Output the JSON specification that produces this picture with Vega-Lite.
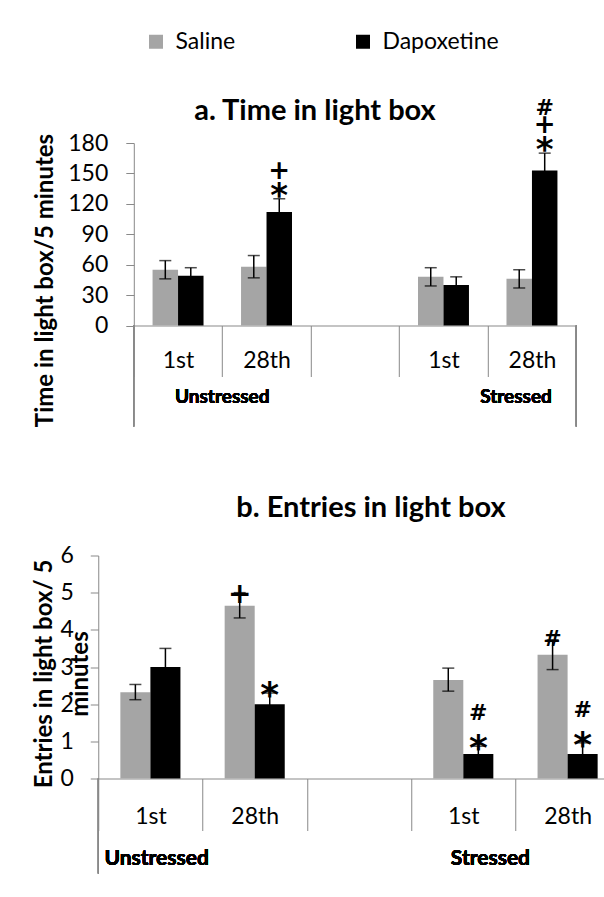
{
  "$schema": "https://vega.github.io/schema/vega-lite/v6.json",
  "padding": {"left": 32, "top": 30, "right": 0, "bottom": 0},
  "background": "white",
  "config": {"view": {"stroke": null}, "font": "Lato", "axis": {"labelOverlap": false}},
  "bounds": "flush",
  "center": true,
  "spacing": 229.5,
  "resolve": {"scale": {"x": "independent", "y": "independent", "xOffset": "independent", "color": "shared"}},
  "vconcat": [
    {
      "width": 442.4,
      "height": 182.5,
      "title": {"text": "a. Time in light box", "frame": "group", "anchor": "middle", "dx": -40, "fontSize": 29, "font": "Lato", "fontWeight": "bold", "offset": -52, "baseline": "alphabetic", "color": "black"},
      "data": {"values": [
        {"slot": "U1", "series": "Saline", "mean": 55, "lo": 46, "hi": 64},
        {"slot": "U1", "series": "Dapoxetine", "mean": 49, "lo": 41, "hi": 57},
        {"slot": "U28", "series": "Saline", "mean": 58, "lo": 47, "hi": 69},
        {"slot": "U28", "series": "Dapoxetine", "mean": 112, "lo": 100, "hi": 125, "s1": "*", "s2": "+"},
        {"slot": "S1", "series": "Saline", "mean": 48, "lo": 39, "hi": 57},
        {"slot": "S1", "series": "Dapoxetine", "mean": 40, "lo": 32, "hi": 48},
        {"slot": "S28", "series": "Saline", "mean": 46, "lo": 37, "hi": 55},
        {"slot": "S28", "series": "Dapoxetine", "mean": 153, "lo": 137, "hi": 170, "s1": "*", "s2": "+", "s3": "#"}
      ]},
      "encoding": {
        "x": {"field": "slot", "type": "nominal",
          "scale": {"domain": ["U1", "U28", "gap", "S1", "S28"], "paddingInner": 0, "paddingOuter": 0},
          "axis": {"title": null, "labelExpr": "datum.value == 'U1' || datum.value == 'S1' ? '1st' : (datum.value == 'U28' || datum.value == 'S28' ? '28th' : '')",
            "domainColor": "#898989", "tickColor": "#898989", "tickBand": "extent", "tickSize": 51,
            "labelFont": "Lato", "labelFontSize": 23, "labelColor": "black", "labelAngle": 0, "labelBaseline": "middle", "labelPadding": -16, "grid": false}},
        "xOffset": {"field": "series", "type": "nominal", "scale": {"domain": ["Saline", "Dapoxetine"], "paddingOuter": 0.736, "paddingInner": 0}}
      },
      "layer": [
        {
          "mark": {"type": "bar"},
          "encoding": {
            "y": {"field": "mean", "type": "quantitative", "scale": {"domain": [0, 180], "nice": false},
              "axis": {"title": "Time in light box/5 minutes", "values": [0, 30, 60, 90, 120, 150, 180], "grid": false, "labelOverlap": false, "domainColor": "#898989", "tickColor": "#898989", "tickSize": 8, "labelFont": "Lato", "labelFontSize": 23, "labelColor": "black", "labelPadding": 18, "titleFont": "Lato", "titleFontSize": 24, "titleFontWeight": "bold", "titleColor": "black", "titleAngle": -90, "titleAlign": "center", "titleBaseline": "alphabetic", "titleX": -81, "titleY": 137}},
            "color": {"field": "series", "type": "nominal", "scale": {"domain": ["Saline", "Dapoxetine"], "range": ["#a5a5a5", "#000000"]},
              "legend": {"orient": "none", "legendX": 46.5, "legendY": -113, "direction": "horizontal", "title": null,
                "symbolType": "square", "symbolSize": 196, "symbolStrokeWidth": 0, "labelFont": "Lato", "labelFontSize": 23,
                "labelColor": "black", "labelOffset": 8, "columnPadding": 116, "padding": 0}}
          }
        },
        {
          "mark": {"type": "rule", "color": "black", "strokeWidth": 1.5},
          "encoding": {
            "y": {"field": "lo", "type": "quantitative",
              "axis": {"title": "Time in light box/5 minutes", "values": [0, 30, 60, 90, 120, 150, 180], "grid": false, "labelOverlap": false, "domainColor": "#898989", "tickColor": "#898989", "tickSize": 8, "labelFont": "Lato", "labelFontSize": 23, "labelColor": "black", "labelPadding": 18, "titleFont": "Lato", "titleFontSize": 24, "titleFontWeight": "bold", "titleColor": "black", "titleAngle": -90, "titleAlign": "center", "titleBaseline": "alphabetic", "titleX": -81, "titleY": 137}},
            "y2": {"field": "hi"}}
        },
        {
          "mark": {"type": "tick", "color": "black", "thickness": 1.5, "size": 12},
          "encoding": {"y": {"field": "hi", "type": "quantitative",
              "axis": {"title": "Time in light box/5 minutes", "values": [0, 30, 60, 90, 120, 150, 180], "grid": false, "labelOverlap": false, "domainColor": "#898989", "tickColor": "#898989", "tickSize": 8, "labelFont": "Lato", "labelFontSize": 23, "labelColor": "black", "labelPadding": 18, "titleFont": "Lato", "titleFontSize": 24, "titleFontWeight": "bold", "titleColor": "black", "titleAngle": -90, "titleAlign": "center", "titleBaseline": "alphabetic", "titleX": -81, "titleY": 137}}}
        },
        {
          "mark": {"type": "tick", "color": "black", "thickness": 1.5, "size": 12},
          "encoding": {"y": {"field": "lo", "type": "quantitative",
              "axis": {"title": "Time in light box/5 minutes", "values": [0, 30, 60, 90, 120, 150, 180], "grid": false, "labelOverlap": false, "domainColor": "#898989", "tickColor": "#898989", "tickSize": 8, "labelFont": "Lato", "labelFontSize": 23, "labelColor": "black", "labelPadding": 18, "titleFont": "Lato", "titleFontSize": 24, "titleFontWeight": "bold", "titleColor": "black", "titleAngle": -90, "titleAlign": "center", "titleBaseline": "alphabetic", "titleX": -81, "titleY": 137}}}
        },
        {
          "mark": {"type": "rule", "color": "#898989", "strokeWidth": 1, "y2Offset": 101},
          "encoding": {
            "x": {"datum": "U1", "type": "nominal", "bandPosition": 0,
              "axis": {"title": null, "labelExpr": "datum.value == 'U1' || datum.value == 'S1' ? '1st' : (datum.value == 'U28' || datum.value == 'S28' ? '28th' : '')", "domainColor": "#898989", "tickColor": "#898989", "tickBand": "extent", "tickSize": 51, "labelFont": "Lato", "labelFontSize": 23, "labelColor": "black", "labelAngle": 0, "labelBaseline": "middle", "labelPadding": -16, "grid": false}},
            "xOffset": null,
            "y": {"datum": 0, "type": "quantitative",
              "axis": {"title": "Time in light box/5 minutes", "values": [0, 30, 60, 90, 120, 150, 180], "grid": false, "labelOverlap": false, "domainColor": "#898989", "tickColor": "#898989", "tickSize": 8, "labelFont": "Lato", "labelFontSize": 23, "labelColor": "black", "labelPadding": 18, "titleFont": "Lato", "titleFontSize": 24, "titleFontWeight": "bold", "titleColor": "black", "titleAngle": -90, "titleAlign": "center", "titleBaseline": "alphabetic", "titleX": -81, "titleY": 137}},
            "y2": {"datum": 0}}
        },
        {
          "mark": {"type": "rule", "color": "#898989", "strokeWidth": 1, "y2Offset": 101},
          "encoding": {
            "x": {"datum": "S28", "type": "nominal", "bandPosition": 1,
              "axis": {"title": null, "labelExpr": "datum.value == 'U1' || datum.value == 'S1' ? '1st' : (datum.value == 'U28' || datum.value == 'S28' ? '28th' : '')", "domainColor": "#898989", "tickColor": "#898989", "tickBand": "extent", "tickSize": 51, "labelFont": "Lato", "labelFontSize": 23, "labelColor": "black", "labelAngle": 0, "labelBaseline": "middle", "labelPadding": -16, "grid": false}},
            "xOffset": null,
            "y": {"datum": 0, "type": "quantitative",
              "axis": {"title": "Time in light box/5 minutes", "values": [0, 30, 60, 90, 120, 150, 180], "grid": false, "labelOverlap": false, "domainColor": "#898989", "tickColor": "#898989", "tickSize": 8, "labelFont": "Lato", "labelFontSize": 23, "labelColor": "black", "labelPadding": 18, "titleFont": "Lato", "titleFontSize": 24, "titleFontWeight": "bold", "titleColor": "black", "titleAngle": -90, "titleAlign": "center", "titleBaseline": "alphabetic", "titleX": -81, "titleY": 137}},
            "y2": {"datum": 0}}
        },
        {
          "mark": {"type": "text", "text": "Unstressed", "font": "Lato", "fontWeight": "bold", "fontSize": 19, "baseline": "middle", "dy": 71.5, "color": "black"},
          "encoding": {
            "x": {"datum": "U28", "type": "nominal", "bandPosition": 0,
              "axis": {"title": null, "labelExpr": "datum.value == 'U1' || datum.value == 'S1' ? '1st' : (datum.value == 'U28' || datum.value == 'S28' ? '28th' : '')", "domainColor": "#898989", "tickColor": "#898989", "tickBand": "extent", "tickSize": 51, "labelFont": "Lato", "labelFontSize": 23, "labelColor": "black", "labelAngle": 0, "labelBaseline": "middle", "labelPadding": -16, "grid": false}},
            "xOffset": null,
            "y": {"datum": 0, "type": "quantitative",
              "axis": {"title": "Time in light box/5 minutes", "values": [0, 30, 60, 90, 120, 150, 180], "grid": false, "labelOverlap": false, "domainColor": "#898989", "tickColor": "#898989", "tickSize": 8, "labelFont": "Lato", "labelFontSize": 23, "labelColor": "black", "labelPadding": 18, "titleFont": "Lato", "titleFontSize": 24, "titleFontWeight": "bold", "titleColor": "black", "titleAngle": -90, "titleAlign": "center", "titleBaseline": "alphabetic", "titleX": -81, "titleY": 137}}}
        },
        {
          "mark": {"type": "text", "text": "Stressed", "font": "Lato", "fontWeight": "bold", "fontSize": 19, "baseline": "middle", "dy": 71.5, "color": "black"},
          "encoding": {
            "x": {"datum": "S28", "type": "nominal", "bandPosition": 0.32,
              "axis": {"title": null, "labelExpr": "datum.value == 'U1' || datum.value == 'S1' ? '1st' : (datum.value == 'U28' || datum.value == 'S28' ? '28th' : '')", "domainColor": "#898989", "tickColor": "#898989", "tickBand": "extent", "tickSize": 51, "labelFont": "Lato", "labelFontSize": 23, "labelColor": "black", "labelAngle": 0, "labelBaseline": "middle", "labelPadding": -16, "grid": false}},
            "xOffset": null,
            "y": {"datum": 0, "type": "quantitative",
              "axis": {"title": "Time in light box/5 minutes", "values": [0, 30, 60, 90, 120, 150, 180], "grid": false, "labelOverlap": false, "domainColor": "#898989", "tickColor": "#898989", "tickSize": 8, "labelFont": "Lato", "labelFontSize": 23, "labelColor": "black", "labelPadding": 18, "titleFont": "Lato", "titleFontSize": 24, "titleFontWeight": "bold", "titleColor": "black", "titleAngle": -90, "titleAlign": "center", "titleBaseline": "alphabetic", "titleX": -81, "titleY": 137}}}
        },
        {
          "transform": [{"filter": "datum.s1 == '*'"}],
          "mark": {"type": "text", "font": "DejaVu Sans", "fontWeight": "bold", "fontSize": 34, "baseline": "alphabetic", "align": "center", "dy": 8, "color": "black"},
          "encoding": {"text": {"field": "s1"}, "y": {"field": "hi", "type": "quantitative",
              "axis": {"title": "Time in light box/5 minutes", "values": [0, 30, 60, 90, 120, 150, 180], "grid": false, "labelOverlap": false, "domainColor": "#898989", "tickColor": "#898989", "tickSize": 8, "labelFont": "Lato", "labelFontSize": 23, "labelColor": "black", "labelPadding": 18, "titleFont": "Lato", "titleFontSize": 24, "titleFontWeight": "bold", "titleColor": "black", "titleAngle": -90, "titleAlign": "center", "titleBaseline": "alphabetic", "titleX": -81, "titleY": 137}}}
        },
        {
          "transform": [{"filter": "datum.s2 == '+'"}],
          "mark": {"type": "text", "font": "DejaVu Sans", "fontWeight": "bold", "fontSize": 26, "baseline": "alphabetic", "align": "center", "dy": -20, "color": "black"},
          "encoding": {"text": {"field": "s2"}, "y": {"field": "hi", "type": "quantitative",
              "axis": {"title": "Time in light box/5 minutes", "values": [0, 30, 60, 90, 120, 150, 180], "grid": false, "labelOverlap": false, "domainColor": "#898989", "tickColor": "#898989", "tickSize": 8, "labelFont": "Lato", "labelFontSize": 23, "labelColor": "black", "labelPadding": 18, "titleFont": "Lato", "titleFontSize": 24, "titleFontWeight": "bold", "titleColor": "black", "titleAngle": -90, "titleAlign": "center", "titleBaseline": "alphabetic", "titleX": -81, "titleY": 137}}}
        },
        {
          "transform": [{"filter": "datum.s3 == '#'"}],
          "mark": {"type": "text", "font": "DejaVu Sans", "fontWeight": "bold", "fontSize": 22, "baseline": "alphabetic", "align": "center", "dy": -38, "color": "black"},
          "encoding": {"text": {"field": "s3"}, "y": {"field": "hi", "type": "quantitative",
              "axis": {"title": "Time in light box/5 minutes", "values": [0, 30, 60, 90, 120, 150, 180], "grid": false, "labelOverlap": false, "domainColor": "#898989", "tickColor": "#898989", "tickSize": 8, "labelFont": "Lato", "labelFontSize": 23, "labelColor": "black", "labelPadding": 18, "titleFont": "Lato", "titleFontSize": 24, "titleFontWeight": "bold", "titleColor": "black", "titleAngle": -90, "titleAlign": "center", "titleBaseline": "alphabetic", "titleX": -81, "titleY": 137}}}
        }
      ]
    },
    {
      "width": 513.5,
      "height": 223,
      "title": {"text": "b. Entries in light box", "frame": "group", "anchor": "middle", "dx": 16, "fontSize": 29, "font": "Lato", "fontWeight": "bold", "offset": -1, "baseline": "alphabetic", "color": "black"},
      "data": {"values": [
        {"slot": "U1", "series": "Saline", "mean": 2.32, "lo": 2.12, "hi": 2.53},
        {"slot": "U1", "series": "Dapoxetine", "mean": 3.0, "lo": 2.5, "hi": 3.5},
        {"slot": "U28", "series": "Saline", "mean": 4.65, "lo": 4.32, "hi": 5.0, "s1": "+"},
        {"slot": "U28", "series": "Dapoxetine", "mean": 2.0, "lo": 1.7, "hi": 2.3, "s1": "*"},
        {"slot": "S1", "series": "Saline", "mean": 2.65, "lo": 2.35, "hi": 2.97},
        {"slot": "S1", "series": "Dapoxetine", "mean": 0.66, "lo": 0.45, "hi": 0.87, "s1": "*", "s2": "#"},
        {"slot": "S28", "series": "Saline", "mean": 3.33, "lo": 2.93, "hi": 3.73, "s1": "#"},
        {"slot": "S28", "series": "Dapoxetine", "mean": 0.66, "lo": 0.36, "hi": 0.96, "s1": "*", "s2": "#"}
      ]},
      "encoding": {
        "x": {"field": "slot", "type": "nominal",
          "scale": {"domain": ["U1", "U28", "gap", "S1", "S28"], "range": [0, 521.5], "paddingInner": 0, "paddingOuter": 0},
          "axis": {"title": null, "labelExpr": "datum.value == 'U1' || datum.value == 'S1' ? '1st' : (datum.value == 'U28' || datum.value == 'S28' ? '28th' : '')",
            "domainColor": "#898989", "tickColor": "#898989", "tickBand": "extent", "tickSize": 52,
            "labelFont": "Lato", "labelFontSize": 23, "labelColor": "black", "labelAngle": 0, "labelBaseline": "middle", "labelPadding": -14, "grid": false}},
        "xOffset": {"field": "series", "type": "nominal", "scale": {"domain": ["Saline", "Dapoxetine"], "paddingOuter": 0.736, "paddingInner": 0}}
      },
      "layer": [
        {
          "mark": {"type": "bar"},
          "encoding": {
            "y": {"field": "mean", "type": "quantitative", "scale": {"domain": [0, 6], "nice": false},
              "axis": {"title": ["Entries in light box/ 5", "minutes"], "values": [0, 1, 2, 3, 4, 5, 6], "grid": false, "labelOverlap": false, "domainColor": "#898989", "tickColor": "#898989", "tickSize": 8, "labelFont": "Lato", "labelFontSize": 23, "labelColor": "black", "labelPadding": 17, "titleFont": "Lato", "titleFontSize": 24, "titleFontWeight": "bold", "titleColor": "black", "titleLineHeight": 36, "titleAngle": -90, "titleAlign": "center", "titleBaseline": "alphabetic", "titleX": -46.5, "titleY": 118}},
            "color": {"field": "series", "type": "nominal", "scale": {"domain": ["Saline", "Dapoxetine"], "range": ["#a5a5a5", "#000000"]},
              "legend": {"orient": "none", "legendX": 46.5, "legendY": -113, "direction": "horizontal", "title": null,
                "symbolType": "square", "symbolSize": 196, "symbolStrokeWidth": 0, "labelFont": "Lato", "labelFontSize": 23,
                "labelColor": "black", "labelOffset": 8, "columnPadding": 116, "padding": 0}}
          }
        },
        {
          "mark": {"type": "rule", "color": "black", "strokeWidth": 1.5},
          "encoding": {"y": {"field": "lo", "type": "quantitative",
              "axis": {"title": ["Entries in light box/ 5", "minutes"], "values": [0, 1, 2, 3, 4, 5, 6], "grid": false, "labelOverlap": false, "domainColor": "#898989", "tickColor": "#898989", "tickSize": 8, "labelFont": "Lato", "labelFontSize": 23, "labelColor": "black", "labelPadding": 17, "titleFont": "Lato", "titleFontSize": 24, "titleFontWeight": "bold", "titleColor": "black", "titleLineHeight": 36, "titleAngle": -90, "titleAlign": "center", "titleBaseline": "alphabetic", "titleX": -46.5, "titleY": 118}},
            "y2": {"field": "hi"}}
        },
        {
          "mark": {"type": "tick", "color": "black", "thickness": 1.5, "size": 12},
          "encoding": {"y": {"field": "hi", "type": "quantitative",
              "axis": {"title": ["Entries in light box/ 5", "minutes"], "values": [0, 1, 2, 3, 4, 5, 6], "grid": false, "labelOverlap": false, "domainColor": "#898989", "tickColor": "#898989", "tickSize": 8, "labelFont": "Lato", "labelFontSize": 23, "labelColor": "black", "labelPadding": 17, "titleFont": "Lato", "titleFontSize": 24, "titleFontWeight": "bold", "titleColor": "black", "titleLineHeight": 36, "titleAngle": -90, "titleAlign": "center", "titleBaseline": "alphabetic", "titleX": -46.5, "titleY": 118}}}
        },
        {
          "mark": {"type": "tick", "color": "black", "thickness": 1.5, "size": 12},
          "encoding": {"y": {"field": "lo", "type": "quantitative",
              "axis": {"title": ["Entries in light box/ 5", "minutes"], "values": [0, 1, 2, 3, 4, 5, 6], "grid": false, "labelOverlap": false, "domainColor": "#898989", "tickColor": "#898989", "tickSize": 8, "labelFont": "Lato", "labelFontSize": 23, "labelColor": "black", "labelPadding": 17, "titleFont": "Lato", "titleFontSize": 24, "titleFontWeight": "bold", "titleColor": "black", "titleLineHeight": 36, "titleAngle": -90, "titleAlign": "center", "titleBaseline": "alphabetic", "titleX": -46.5, "titleY": 118}}}
        },
        {
          "mark": {"type": "rule", "color": "#898989", "strokeWidth": 1, "y2Offset": 95},
          "encoding": {
            "x": {"datum": "U1", "type": "nominal", "bandPosition": 0,
              "axis": {"title": null, "labelExpr": "datum.value == 'U1' || datum.value == 'S1' ? '1st' : (datum.value == 'U28' || datum.value == 'S28' ? '28th' : '')", "domainColor": "#898989", "tickColor": "#898989", "tickBand": "extent", "tickSize": 52, "labelFont": "Lato", "labelFontSize": 23, "labelColor": "black", "labelAngle": 0, "labelBaseline": "middle", "labelPadding": -14, "grid": false}},
            "xOffset": null,
            "y": {"datum": 0, "type": "quantitative",
              "axis": {"title": ["Entries in light box/ 5", "minutes"], "values": [0, 1, 2, 3, 4, 5, 6], "grid": false, "labelOverlap": false, "domainColor": "#898989", "tickColor": "#898989", "tickSize": 8, "labelFont": "Lato", "labelFontSize": 23, "labelColor": "black", "labelPadding": 17, "titleFont": "Lato", "titleFontSize": 24, "titleFontWeight": "bold", "titleColor": "black", "titleLineHeight": 36, "titleAngle": -90, "titleAlign": "center", "titleBaseline": "alphabetic", "titleX": -46.5, "titleY": 118}},
            "y2": {"datum": 0}}
        },
        {
          "mark": {"type": "text", "text": "Unstressed", "font": "Lato", "fontWeight": "bold", "fontSize": 21, "baseline": "middle", "dy": 80, "color": "black"},
          "encoding": {
            "x": {"datum": "U1", "type": "nominal", "bandPosition": 0.56,
              "axis": {"title": null, "labelExpr": "datum.value == 'U1' || datum.value == 'S1' ? '1st' : (datum.value == 'U28' || datum.value == 'S28' ? '28th' : '')", "domainColor": "#898989", "tickColor": "#898989", "tickBand": "extent", "tickSize": 52, "labelFont": "Lato", "labelFontSize": 23, "labelColor": "black", "labelAngle": 0, "labelBaseline": "middle", "labelPadding": -14, "grid": false}},
            "xOffset": null,
            "y": {"datum": 0, "type": "quantitative",
              "axis": {"title": ["Entries in light box/ 5", "minutes"], "values": [0, 1, 2, 3, 4, 5, 6], "grid": false, "labelOverlap": false, "domainColor": "#898989", "tickColor": "#898989", "tickSize": 8, "labelFont": "Lato", "labelFontSize": 23, "labelColor": "black", "labelPadding": 17, "titleFont": "Lato", "titleFontSize": 24, "titleFontWeight": "bold", "titleColor": "black", "titleLineHeight": 36, "titleAngle": -90, "titleAlign": "center", "titleBaseline": "alphabetic", "titleX": -46.5, "titleY": 118}}}
        },
        {
          "mark": {"type": "text", "text": "Stressed", "font": "Lato", "fontWeight": "bold", "fontSize": 21, "baseline": "middle", "dy": 80, "color": "black"},
          "encoding": {
            "x": {"datum": "S1", "type": "nominal", "bandPosition": 0.76,
              "axis": {"title": null, "labelExpr": "datum.value == 'U1' || datum.value == 'S1' ? '1st' : (datum.value == 'U28' || datum.value == 'S28' ? '28th' : '')", "domainColor": "#898989", "tickColor": "#898989", "tickBand": "extent", "tickSize": 52, "labelFont": "Lato", "labelFontSize": 23, "labelColor": "black", "labelAngle": 0, "labelBaseline": "middle", "labelPadding": -14, "grid": false}},
            "xOffset": null,
            "y": {"datum": 0, "type": "quantitative",
              "axis": {"title": ["Entries in light box/ 5", "minutes"], "values": [0, 1, 2, 3, 4, 5, 6], "grid": false, "labelOverlap": false, "domainColor": "#898989", "tickColor": "#898989", "tickSize": 8, "labelFont": "Lato", "labelFontSize": 23, "labelColor": "black", "labelPadding": 17, "titleFont": "Lato", "titleFontSize": 24, "titleFontWeight": "bold", "titleColor": "black", "titleLineHeight": 36, "titleAngle": -90, "titleAlign": "center", "titleBaseline": "alphabetic", "titleX": -46.5, "titleY": 118}}}
        },
        {
          "transform": [{"filter": "datum.s1 == '*'"}],
          "mark": {"type": "text", "font": "DejaVu Sans", "fontWeight": "bold", "fontSize": 36, "baseline": "alphabetic", "align": "center", "dy": 14, "color": "black"},
          "encoding": {"text": {"field": "s1"}, "y": {"field": "hi", "type": "quantitative",
              "axis": {"title": ["Entries in light box/ 5", "minutes"], "values": [0, 1, 2, 3, 4, 5, 6], "grid": false, "labelOverlap": false, "domainColor": "#898989", "tickColor": "#898989", "tickSize": 8, "labelFont": "Lato", "labelFontSize": 23, "labelColor": "black", "labelPadding": 17, "titleFont": "Lato", "titleFontSize": 24, "titleFontWeight": "bold", "titleColor": "black", "titleLineHeight": 36, "titleAngle": -90, "titleAlign": "center", "titleBaseline": "alphabetic", "titleX": -46.5, "titleY": 118}}}
        },
        {
          "transform": [{"filter": "datum.s1 == '+'"}],
          "mark": {"type": "text", "font": "DejaVu Sans", "fontWeight": "bold", "fontSize": 28, "baseline": "alphabetic", "align": "center", "dy": 10, "color": "black"},
          "encoding": {"text": {"field": "s1"}, "y": {"field": "hi", "type": "quantitative",
              "axis": {"title": ["Entries in light box/ 5", "minutes"], "values": [0, 1, 2, 3, 4, 5, 6], "grid": false, "labelOverlap": false, "domainColor": "#898989", "tickColor": "#898989", "tickSize": 8, "labelFont": "Lato", "labelFontSize": 23, "labelColor": "black", "labelPadding": 17, "titleFont": "Lato", "titleFontSize": 24, "titleFontWeight": "bold", "titleColor": "black", "titleLineHeight": 36, "titleAngle": -90, "titleAlign": "center", "titleBaseline": "alphabetic", "titleX": -46.5, "titleY": 118}}}
        },
        {
          "transform": [{"filter": "datum.s1 == '#'"}],
          "mark": {"type": "text", "font": "DejaVu Sans", "fontWeight": "bold", "fontSize": 22, "baseline": "alphabetic", "align": "center", "dy": 6, "color": "black"},
          "encoding": {"text": {"field": "s1"}, "y": {"field": "hi", "type": "quantitative",
              "axis": {"title": ["Entries in light box/ 5", "minutes"], "values": [0, 1, 2, 3, 4, 5, 6], "grid": false, "labelOverlap": false, "domainColor": "#898989", "tickColor": "#898989", "tickSize": 8, "labelFont": "Lato", "labelFontSize": 23, "labelColor": "black", "labelPadding": 17, "titleFont": "Lato", "titleFontSize": 24, "titleFontWeight": "bold", "titleColor": "black", "titleLineHeight": 36, "titleAngle": -90, "titleAlign": "center", "titleBaseline": "alphabetic", "titleX": -46.5, "titleY": 118}}}
        },
        {
          "transform": [{"filter": "datum.s2 == '#'"}],
          "mark": {"type": "text", "font": "DejaVu Sans", "fontWeight": "bold", "fontSize": 22, "baseline": "alphabetic", "align": "center", "dy": -26, "color": "black"},
          "encoding": {"text": {"field": "s2"}, "y": {"field": "hi", "type": "quantitative",
              "axis": {"title": ["Entries in light box/ 5", "minutes"], "values": [0, 1, 2, 3, 4, 5, 6], "grid": false, "labelOverlap": false, "domainColor": "#898989", "tickColor": "#898989", "tickSize": 8, "labelFont": "Lato", "labelFontSize": 23, "labelColor": "black", "labelPadding": 17, "titleFont": "Lato", "titleFontSize": 24, "titleFontWeight": "bold", "titleColor": "black", "titleLineHeight": 36, "titleAngle": -90, "titleAlign": "center", "titleBaseline": "alphabetic", "titleX": -46.5, "titleY": 118}}}
        }
      ]
    }
  ]
}
